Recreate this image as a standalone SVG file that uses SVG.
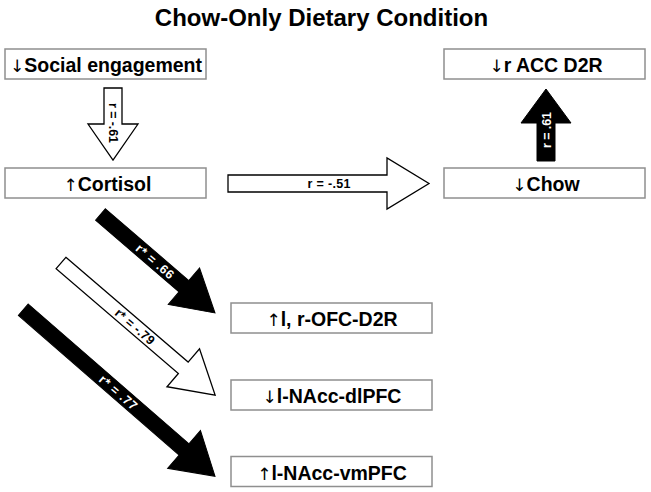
<svg xmlns="http://www.w3.org/2000/svg" width="651" height="492" viewBox="0 0 651 492">
<style>
.box{fill:#fff;stroke:#8f8f8f;stroke-width:1.5}
.nt{font-family:"Liberation Sans",Arial,sans-serif;font-weight:bold;font-size:19.5px;text-anchor:middle;fill:#000}
.ar{font-family:"DejaVu Sans",sans-serif;font-weight:normal;font-size:17px;fill:#000}
.title{font-family:"Liberation Sans",Arial,sans-serif;font-weight:bold;font-size:24px;text-anchor:middle;fill:#000}
.ab{fill:#000;stroke:#000;stroke-width:1}
.aw{fill:#fff;stroke:#000;stroke-width:1.3}
.lb{font-family:"Liberation Sans",Arial,sans-serif;font-weight:bold;font-size:12.5px;text-anchor:middle}
.lw{fill:#fff}
.lk{fill:#000}
</style>
<rect width="651" height="492" fill="#fff"/>
<text class="title" x="321.5" y="26">Chow-Only Dietary Condition</text>
<g id="connectors">
  <g id="a-social-cortisol">
    <polygon class="aw" points="104,88 122,88 122,124 138,124 113,160 88,124 104,124"/>
    <text class="lb lk" transform="translate(113,123) rotate(90)" x="0" y="4.5" textLength="40" lengthAdjust="spacing">r = -.61</text>
  </g>
  <g id="a-cortisol-chow">
    <polygon class="aw" points="228,175 387,175 387,158 429,183.5 387,209 387,192 228,192"/>
    <text class="lb lk" x="329" y="188" textLength="43" lengthAdjust="spacing">r = -.51</text>
  </g>
  <g id="a-chow-acc">
    <polygon class="ab" points="537,161 555,161 555,123 571,123 546,89 521,123 537,123"/>
    <text class="lb lw" transform="translate(546,130) rotate(-90)" x="0" y="4.5" textLength="36" lengthAdjust="spacing">r = .61</text>
  </g>
  <g id="a-cortisol-ofc" transform="translate(100.5,214.5) rotate(40.7)">
    <polygon class="ab" points="0,-7.5 110,-7.5 110,-24 151,0 110,24 110,7.5 0,7.5"/>
    <text class="lb lw" x="72" y="4.5" textLength="46" lengthAdjust="spacing">r* = .66</text>
  </g>
  <g id="a-cortisol-dlpfc" transform="translate(61,263) rotate(40.6)">
    <polygon class="aw" points="0,-7.5 161,-7.5 161,-25 203,0 161,25 161,7.5 0,7.5"/>
    <text class="lb lk" x="97.5" y="4.5" textLength="48" lengthAdjust="spacing">r* = -.79</text>
  </g>
  <g id="a-cortisol-vmpfc" transform="translate(23.3,309.7) rotate(41)">
    <polygon class="ab" points="0,-7.5 213,-7.5 213,-25 254,0 213,25 213,7.5 0,7.5"/>
    <text class="lb lw" x="126" y="4.5" textLength="46" lengthAdjust="spacing">r* = .77</text>
  </g>
</g>
<g id="n-social"><rect class="box" x="5" y="49" width="201" height="30"/><text class="nt" x="106" y="71.5"><tspan class="ar">↓</tspan>Social engagement</text></g>
<g id="n-cortisol"><rect class="box" x="5" y="168" width="201" height="30"/><text class="nt" x="107.5" y="190.5"><tspan class="ar">↑</tspan>Cortisol</text></g>
<g id="n-acc"><rect class="box" x="444" y="49" width="201" height="30"/><text class="nt" x="546" y="71.5"><tspan class="ar">↓</tspan>r ACC D2R</text></g>
<g id="n-chow"><rect class="box" x="444" y="168" width="201" height="30"/><text class="nt" x="546" y="190.5"><tspan class="ar">↓</tspan>Chow</text></g>
<g id="n-ofc"><rect class="box" x="231" y="303" width="201" height="30"/><text class="nt" x="332" y="326"><tspan class="ar">↑</tspan>l, r-OFC-D2R</text></g>
<g id="n-dlpfc"><rect class="box" x="231" y="380" width="201" height="30"/><text class="nt" x="332" y="403"><tspan class="ar">↓</tspan>l-NAcc-dlPFC</text></g>
<g id="n-vmpfc"><rect class="box" x="231" y="456.5" width="201" height="30"/><text class="nt" x="332" y="479.5"><tspan class="ar">↑</tspan>l-NAcc-vmPFC</text></g>
</svg>
